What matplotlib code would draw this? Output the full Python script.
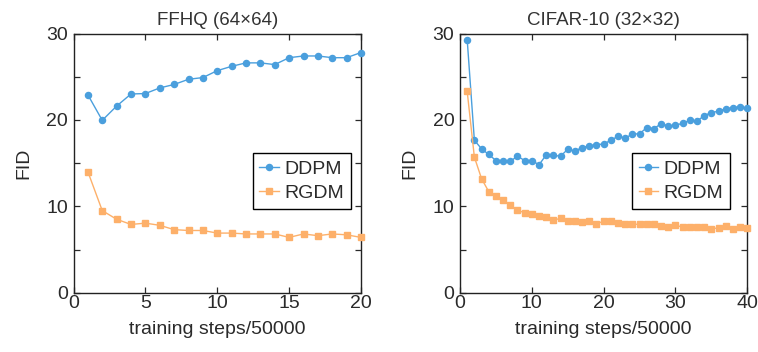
import numpy as np
import matplotlib
matplotlib.use("Agg")
import matplotlib.pyplot as plt
from matplotlib.ticker import MultipleLocator

plt.rcParams['font.family'] = ['Liberation Sans', 'DejaVu Sans']

# FFHQ (64x64)
ffhq_steps = list(range(1, 21))
ffhq_ddpm = [22.9, 19.95, 21.6, 23.0, 23.05, 23.7, 24.1, 24.7, 24.9, 25.7,
             26.2, 26.6, 26.6, 26.4, 27.2, 27.4, 27.4, 27.2, 27.2, 27.8]
ffhq_rgdm = [14.0, 9.5, 8.5, 7.9, 8.05, 7.8, 7.3, 7.2, 7.2, 6.9,
             6.9, 6.8, 6.8, 6.8, 6.4, 6.8, 6.6, 6.8, 6.7, 6.4]

# CIFAR-10 (32x32)
cifar_steps = list(range(1, 41))
cifar_ddpm = [29.3, 17.65, 16.65, 16.0, 15.3, 15.3, 15.2, 15.8, 15.3, 15.3,
              14.8, 15.95, 15.9, 15.8, 16.6, 16.4, 16.8, 17.0, 17.15, 17.2,
              17.65, 18.1, 17.9, 18.35, 18.4, 19.1, 19.0, 19.55, 19.3, 19.4,
              19.6, 19.95, 19.85, 20.5, 20.85, 21.0, 21.3, 21.4, 21.55, 21.35]
cifar_rgdm = [23.3, 15.7, 13.2, 11.7, 11.2, 10.7, 10.1, 9.55, 9.25, 9.1,
              8.9, 8.8, 8.4, 8.6, 8.35, 8.25, 8.2, 8.25, 8.0, 8.25,
              8.25, 8.05, 7.95, 7.95, 7.9, 7.9, 7.9, 7.75, 7.6, 7.8,
              7.6, 7.6, 7.6, 7.65, 7.4, 7.5, 7.7, 7.35, 7.55, 7.5]

blue = '#4a9fdd'
orange = '#fdb06a'
txt = '#2a2a2a'

fig = plt.figure(figsize=(7.58, 3.52), dpi=100)
W, H = 758, 352

def make_axes(left, right, top, bottom):
    return fig.add_axes([left / W, 1 - bottom / H, (right - left) / W, (bottom - top) / H])

panels = [
    (make_axes(73.5, 361, 33.5, 292.7), ffhq_steps, ffhq_ddpm, ffhq_rgdm,
     'FFHQ (64×64)', 20, 5, 1.0),
    (make_axes(460, 747.3, 33.5, 292.7), cifar_steps, cifar_ddpm, cifar_rgdm,
     'CIFAR-10 (32×32)', 40, 10, 0.975),
]

for ax, steps, ddpm, rgdm, title, xmax, xstep, lx in panels:
    ax.plot(steps, ddpm, color=blue, marker='o', markersize=4.4, linewidth=1.0,
            label='DDPM', clip_on=False, zorder=3)
    ax.plot(steps, rgdm, color=orange, marker='s', markersize=4.6, linewidth=1.0,
            label='RGDM', clip_on=False, zorder=3)
    ax.set_xlim(0, xmax)
    ax.set_ylim(0, 30)
    ax.xaxis.set_major_locator(MultipleLocator(xstep))
    ax.yaxis.set_major_locator(MultipleLocator(10))
    ax.yaxis.set_minor_locator(MultipleLocator(5))
    ax.tick_params(which='both', direction='in', top=True, right=True,
                   length=4.5, width=0.9, labelsize=14, pad=2, colors=txt)
    ax.tick_params(axis='y', pad=4)
    for s in ax.spines.values():
        s.set_linewidth(1.0)
        s.set_color('#222222')
    ax.set_title(title, fontsize=13.5, color='#333333', pad=6)
    ax.set_xlabel('training steps/50000', fontsize=14, color=txt, labelpad=6)
    ax.set_ylabel('FID', fontsize=14, color=txt, labelpad=10)
    leg = ax.legend(loc='center right', bbox_to_anchor=(lx, 0.43), fontsize=14,
                    fancybox=False, edgecolor='black', framealpha=1,
                    handlelength=1.0, handletextpad=0.3, borderpad=0.35,
                    labelspacing=0.35, borderaxespad=0.5)
    leg.get_frame().set_linewidth(1.0)
    for t in leg.get_texts():
        t.set_color(txt)

fig.savefig('out.png', dpi=100)
